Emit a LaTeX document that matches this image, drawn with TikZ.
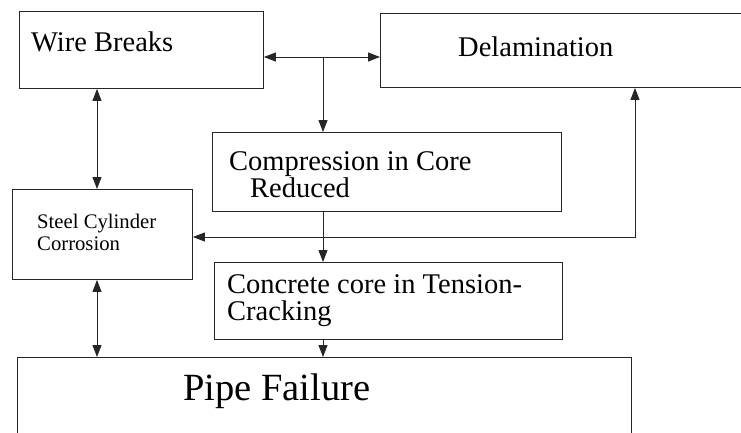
\documentclass[tikz,border=0pt]{standalone}
\usepackage{fontspec}
\setmainfont{Liberation Serif}
\usetikzlibrary{arrows.meta}
\begin{document}
\begin{tikzpicture}[x=1pt,y=-1pt,
  box/.style={draw=black!85,line width=0.9pt,rectangle,inner sep=0pt,anchor=north west},
  lbl/.style={anchor=base west,inner sep=0pt,align=left},
  big/.style={font=\fontsize{28.5}{27.5}\selectfont},
  small/.style={font=\fontsize{20.7}{22}\selectfont},
  huge/.style={font=\fontsize{38.5}{40}\selectfont},
  conn/.style={draw=black!85,line width=0.9pt},
  onehead/.style={conn,arrows={-Triangle[length=12pt,width=9pt]}},
  twohead/.style={conn,arrows={Triangle[length=12pt,width=9pt]-Triangle[length=12pt,width=9pt]}}]
\useasboundingbox (0,0) rectangle (741,432);

% boxes
\node[box,minimum width=244pt,minimum height=77pt] (wb) at (19,11) {};
\node[box,minimum width=370pt,minimum height=74pt] (dl) at (380,13) {};
\node[box,minimum width=349pt,minimum height=79pt] (cp) at (212,132) {};
\node[box,minimum width=180pt,minimum height=90pt] (st) at (12,189) {};
\node[box,minimum width=348pt,minimum height=77pt] (cc) at (214,262) {};
\node[box,minimum width=614pt,minimum height=90pt] (pf) at (17,357) {};

% texts
\node[lbl,big] (twb) at (31,51) {Wire Breaks};
\node[lbl,big] (tdl) at (458,56) {Delamination};
\node[lbl,big] (tcp1) at (229,170) {Compression in Core};
\node[lbl,big] (tcp2) at (250,197) {Reduced};
\node[lbl,small] (tst1) at (37,228) {Steel Cylinder};
\node[lbl,small] (tst2) at (37,250) {Corrosion};
\node[lbl,big] (tcc1) at (227,293) {Concrete core in Tension-};
\node[lbl,big] (tcc2) at (227,320) {Cracking};
\node[lbl,huge] (tpf) at (183,400) {Pipe Failure};

% junction points
\coordinate (j) at (323,57);
\coordinate (k) at (635,237);
\coordinate (v) at (97,0);

% connectors
\draw[twohead] (wb.east |- j) -- (dl.west |- j);
\draw[onehead] (j) -- (cp.north -| j);
\draw[twohead] (wb.south -| v) -- (st.north -| v);
\draw[twohead] (st.east |- k) -- (k) -- (dl.south -| k);
\draw[onehead] (cp.south -| j) -- (cc.north -| j);
\draw[onehead] (cc.south -| j) -- (pf.north -| j);
\draw[twohead] (st.south -| v) -- (pf.north -| v);
\end{tikzpicture}
\end{document}
